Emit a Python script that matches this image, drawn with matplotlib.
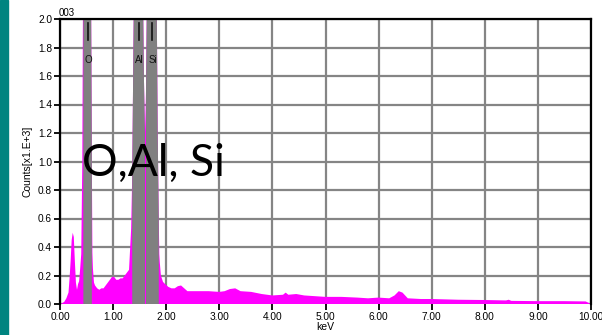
"""EDS spectrum with O, Al and Si regions of interest."""

import numpy as np
import matplotlib.pyplot as plt
from matplotlib.patches import Rectangle

# spectrum: energy (keV) and counts (x1E3)
energy_kev = [
    0.00, 0.04, 0.08, 0.12, 0.16, 0.18, 0.20, 0.22, 0.24, 0.26, 0.28, 0.30,
    0.32, 0.34, 0.36, 0.38, 0.40, 0.42, 0.43, 0.44, 0.46, 0.50, 0.52, 0.54,
    0.56, 0.58, 0.60, 0.61, 0.62, 0.64, 0.66, 0.70, 0.74, 0.78, 0.82, 0.86,
    0.90, 0.94, 0.98, 1.02, 1.06, 1.10, 1.14, 1.18, 1.22, 1.26, 1.30, 1.34,
    1.36, 1.38, 1.40, 1.44, 1.48, 1.52, 1.56, 1.58, 1.60, 1.62, 1.64, 1.68,
    1.74, 1.78, 1.82, 1.84, 1.86, 1.87, 1.88, 1.90, 1.94, 1.98, 2.04, 2.10,
    2.16, 2.22, 2.28, 2.34, 2.40, 2.60, 2.80, 3.00, 3.10, 3.20, 3.30, 3.40,
    3.60, 3.80, 4.00, 4.20, 4.25, 4.30, 4.45, 4.60, 4.80, 5.00, 5.30, 5.60,
    5.80, 6.00, 6.20, 6.30, 6.38, 6.45, 6.55, 6.80, 7.00, 7.50, 8.00, 8.40,
    8.45, 8.50, 9.00, 9.50, 9.90, 10.00,
]
counts = [
    0.000, 0.005, 0.015, 0.040, 0.080, 0.180, 0.300, 0.450, 0.500, 0.470, 0.300, 0.150,
    0.100, 0.140, 0.160, 0.250, 0.350, 1.000, 1.900, 2.800, 5.000, 8.000, 9.000, 8.000,
    5.000, 2.600, 1.000, 0.360, 0.250, 0.150, 0.130, 0.110, 0.100, 0.110, 0.110, 0.130,
    0.150, 0.170, 0.190, 0.190, 0.170, 0.170, 0.180, 0.180, 0.200, 0.220, 0.240, 0.530,
    0.900, 1.700, 2.500, 6.000, 9.000, 6.000, 2.300, 1.600, 1.200, 1.500, 2.300, 6.000,
    10.00, 6.000, 2.200, 1.200, 0.600, 0.350, 0.290, 0.200, 0.155, 0.140, 0.120, 0.110,
    0.110, 0.125, 0.130, 0.110, 0.090, 0.090, 0.090, 0.085, 0.090, 0.105, 0.110, 0.090,
    0.085, 0.070, 0.060, 0.065, 0.080, 0.065, 0.070, 0.060, 0.055, 0.050, 0.050, 0.045,
    0.040, 0.045, 0.040, 0.060, 0.090, 0.080, 0.040, 0.035, 0.035, 0.030, 0.028, 0.025,
    0.030, 0.022, 0.020, 0.020, 0.018, 0.000,
]

# regions of interest (keV) and element markers
roi_windows = [(0.44, 0.60), (1.36, 1.60), (1.62, 1.86)]
peak_names = ["O", "Al", "Si"]
peak_kev = [0.525, 1.486, 1.740]

x_ticks = [0, 1, 2, 3, 4, 5, 6, 7, 8, 9, 10]
y_ticks = [0.0, 0.2, 0.4, 0.6, 0.8, 1.0, 1.2, 1.4, 1.6, 1.8, 2.0]

E = np.array(energy_kev)
C = np.array(counts)

fig = plt.figure(figsize=(6.02, 3.35), dpi=100)
fig.patches.append(Rectangle((0, 0), 8 / 602, 1, transform=fig.transFigure,
                             color="#008480", zorder=0))

ax = fig.add_axes([60 / 602, 31 / 335, 531 / 602, 285 / 335])
ax.set_xlim(0, 10)
ax.set_ylim(0, 2.0)

ax.grid(True, color="#858585", linewidth=1.6)
ax.set_axisbelow(True)

ax.fill_between(E, 0, C, color="#ff00ff", linewidth=0, zorder=2)
for lo, hi in roi_windows:
    mask = (E >= lo - 1e-9) & (E <= hi + 1e-9)
    ax.fill_between(E[mask], 0, C[mask], color="#808080", linewidth=0, zorder=3)

for name, kev in zip(peak_names, peak_kev):
    ax.plot([kev, kev], [1.85, 1.97], color="#111111", linewidth=1.2, zorder=4)
    ax.text(kev, 1.71, name, ha="center", va="center", fontsize=7,
            family="Liberation Sans", color="#111111", zorder=4)

ax.set_xticks(x_ticks)
ax.set_xticklabels([f"{v:.2f}" for v in x_ticks])
ax.set_yticks(y_ticks)
ax.set_yticklabels([f"{v:.1f}" for v in y_ticks])
ax.tick_params(length=4.3, width=1.3, pad=1.5, labelsize=7.3, colors="black")
for lab in ax.get_xticklabels() + ax.get_yticklabels():
    lab.set_family("Liberation Sans")

for side in ("left", "top", "right"):
    ax.spines[side].set_linewidth(1.6)
    ax.spines[side].set_zorder(5)
ax.spines["bottom"].set_visible(False)

ax.set_xlabel("keV", fontsize=7.5, family="Liberation Sans", labelpad=0)
ax.set_ylabel("Counts[x1.E+3]", fontsize=7.5, family="Liberation Sans", labelpad=4)

fig.text(59 / 602, 1 - 16 / 335, "003", fontsize=7, family="Liberation Sans")
fig.text(82 / 602, 1 - 176 / 335, "O,Al, Si", fontsize=32, family="Lato",
         va="baseline", zorder=10)

fig.savefig("out.png", dpi=100)
